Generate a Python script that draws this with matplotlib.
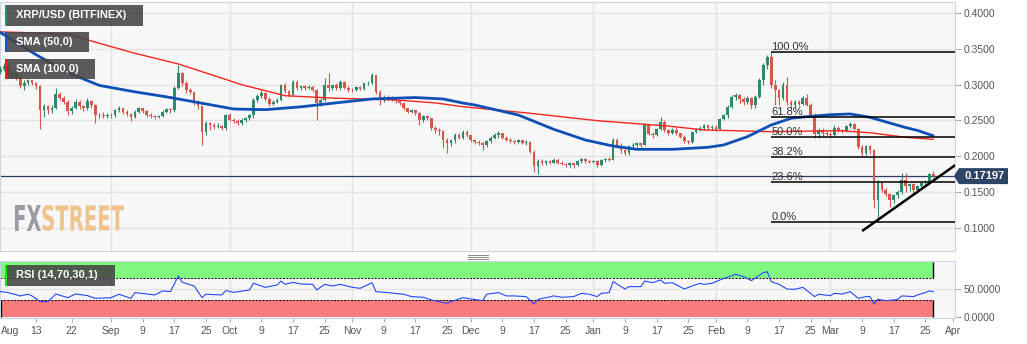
"""XRP/USD daily candles with SMA 50/100, Fibonacci retracement, trendline and RSI."""
import numpy as np
import pandas as pd
import matplotlib
matplotlib.use('Agg')
import matplotlib.pyplot as plt
import matplotlib.dates as mdates
from matplotlib.patches import Rectangle, Polygon, PathPatch
from matplotlib.lines import Line2D
from matplotlib.textpath import TextPath
from matplotlib.font_manager import FontProperties
from matplotlib.transforms import Affine2D, blended_transform_factory

plt.rcParams.update({
    'font.family': ['Liberation Sans', 'DejaVu Sans'],
    'font.size': 8,
})

# ============================================================
# Data (daily candles, Aug 4 2019 -> Mar 27 2020)
# ============================================================
start = '2019-08-04'
first_open = 0.318

close = [
    # Aug
    .322, .326, .313, .316, .310, .298, .303, .306, .302, .298, .265, .270, .264, .268,
    .287, .281, .276, .263, .268, .276, .270, .267, .277, .271, .257, .258, .256, .258,
    # Sep
    .257, .264, .267, .262, .259, .255, .262, .267, .263, .258, .256, .255, .256, .262, .266,
    .264, .296, .316, .302, .292, .290, .276, .270, .234, .246, .243, .241, .242, .239, .257,
    # Oct
    .251, .249, .246, .250, .253, .257, .279, .284, .288, .280, .273, .276, .279, .299, .291, .286,
    .304, .295, .298, .296, .297, .292, .274, .279, .299, .295, .299, .295, .304, .296, .293,
    # Nov
    .292, .297, .294, .302, .303, .313, .290, .278, .283, .280, .282, .277, .274, .267, .262,
    .264, .260, .250, .256, .253, .240, .237, .235, .223, .218, .222, .230, .226, .234, .229,
    # Dec
    .222, .220, .218, .215, .221, .226, .229, .232, .226, .223, .221, .220, .222, .219, .220, .206,
    .186, .193, .190, .193, .191, .195, .191, .189, .187, .190, .187, .193, .196, .193, .192,
    # Jan
    .193, .188, .194, .196, .195, .223, .214, .208, .205, .214, .216, .218, .216, .244, .231, .230,
    .238, .248, .236, .233, .237, .232, .227, .221, .220, .234, .238, .240, .243, .239, .241,
    # Feb
    .238, .252, .257, .269, .283, .285, .280, .276, .281, .271, .283, .306, .327, .339, .300,
    .292, .281, .300, .276, .272, .276, .273, .282, .272, .258, .231, .236, .232, .231,
    # Mar
    .230, .240, .236, .235, .242, .245, .238, .213, .204, .2135, .209, .139, .162, .153,
    .147, .138, .145, .150, .166, .158, .161, .152, .158, .162, .163, .175, .17197,
]
high = [
    .326, .330, .328, .320, .318, .312, .306, .308, .307, .304, .300, .273, .272, .271,
    .295, .290, .284, .278, .270, .280, .278, .272, .281, .279, .273, .261, .262, .261,
    .261, .266, .270, .268, .264, .261, .264, .269, .268, .265, .260, .258, .258, .264, .268,
    .267, .298, .328, .318, .305, .296, .291, .278, .272, .249, .248, .246, .246, .244, .259,
    .260, .254, .252, .253, .255, .259, .281, .287, .292, .290, .283, .279, .282, .301, .302, .293,
    .307, .306, .300, .300, .300, .299, .294, .281, .310, .316, .300, .303, .306, .305, .298,
    .296, .298, .298, .303, .305, .317, .314, .292, .285, .285, .284, .283, .279, .275, .268,
    .266, .265, .262, .258, .257, .254, .242, .239, .236, .225, .224, .233, .232, .237, .236,
    .230, .224, .222, .220, .223, .228, .232, .235, .233, .228, .225, .223, .224, .223, .222, .221,
    .208, .196, .196, .195, .195, .197, .198, .193, .191, .192, .191, .194, .198, .197, .195,
    .194, .194, .196, .197, .199, .225, .225, .218, .210, .216, .219, .220, .219, .246, .245, .234,
    .240, .255, .250, .238, .239, .239, .233, .229, .223, .235, .240, .242, .245, .244, .244,
    .243, .254, .259, .271, .286, .288, .287, .283, .284, .283, .285, .309, .330, .341, .3462,
    .306, .294, .304, .311, .279, .279, .278, .284, .287, .274, .260, .240, .239, .235,
    .234, .243, .242, .238, .244, .248, .247, .239, .215, .216, .215, .210, .166, .164,
    .156, .149, .147, .152, .176, .176, .162, .162, .160, .164, .166, .176, .179,
]
low = [
    .315, .319, .310, .309, .306, .295, .293, .299, .299, .294, .238, .255, .259, .261,
    .266, .278, .273, .258, .259, .266, .266, .263, .265, .268, .246, .253, .254, .254,
    .254, .255, .262, .259, .256, .249, .253, .260, .260, .255, .253, .252, .253, .255, .260,
    .261, .262, .294, .298, .289, .287, .272, .266, .215, .230, .236, .238, .239, .236, .236,
    .249, .246, .243, .244, .248, .251, .254, .276, .281, .277, .270, .271, .274, .277, .289, .283,
    .285, .293, .293, .293, .294, .290, .250, .270, .277, .291, .292, .293, .293, .294, .290,
    .290, .291, .292, .292, .299, .301, .287, .271, .276, .278, .277, .275, .272, .265, .260,
    .260, .257, .243, .248, .251, .236, .232, .230, .212, .204, .214, .218, .224, .224, .227,
    .220, .217, .215, .208, .213, .219, .224, .226, .224, .221, .219, .217, .218, .217, .216, .204,
    .178, .175, .188, .188, .189, .190, .189, .187, .185, .185, .184, .186, .191, .191, .190,
    .190, .185, .186, .192, .193, .194, .212, .204, .202, .202, .211, .213, .213, .215, .229, .226,
    .228, .236, .234, .230, .231, .230, .225, .218, .217, .219, .232, .235, .237, .236, .236,
    .235, .236, .250, .254, .267, .279, .275, .272, .273, .266, .268, .281, .300, .322, .296,
    .272, .272, .279, .271, .266, .268, .270, .271, .270, .256, .225, .226, .227, .228,
    .226, .228, .234, .233, .234, .240, .236, .210, .200, .201, .203, .127, .1082, .150,
    .144, .129, .135, .141, .147, .150, .151, .147, .149, .155, .159, .161, .169,
]

# moving averages (days counted from the first candle)
sma50_day = [0, 9, 17, 25, 34, 42, 50, 59, 67, 76, 84, 94, 105, 112, 117, 120, 131, 140,
             148, 155, 161, 170, 179, 183, 189, 195, 200, 204, 210, 215, 220, 229, 232, 236]
sma50_val = [0.373, 0.342, 0.317, 0.299, 0.290, 0.283, 0.275, 0.266, 0.265, 0.269, 0.274,
             0.280, 0.282, 0.280, 0.2743, 0.2716, 0.2576, 0.2375, 0.2225, 0.2141, 0.2095,
             0.2095, 0.2123, 0.2156, 0.2272, 0.2436, 0.2529, 0.2552, 0.2580, 0.2590, 0.2543,
             0.2400, 0.2360, 0.2285]
sma100_day = [0, 17, 25, 34, 45, 55, 61, 72, 85, 95, 100, 110, 117, 134, 151, 169, 178,
              195, 212, 220, 229, 236]
sma100_val = [0.374, 0.371, 0.358, 0.344, 0.329, 0.311, 0.300, 0.2846, 0.281, 0.2795,
              0.2786, 0.2745, 0.2692, 0.260, 0.2496, 0.242, 0.2366, 0.2342, 0.2356, 0.2328,
              0.2263, 0.2235]

# RSI(14)
rsi_day = [0, 2, 5, 7, 8, 10, 12, 14, 17, 19,
           22, 24, 28, 30, 33, 34, 37, 39, 41, 43,
           45, 46, 49, 51, 52, 56, 57, 59, 63, 64,
           67, 70, 71, 72, 74, 76, 79, 80, 82, 84,
           86, 89, 91, 94, 95, 98, 102, 104, 107, 109,
           113, 114, 117, 119, 122, 123, 126, 128, 130, 133,
           135, 136, 138, 140, 142, 145, 147, 149, 151, 152,
           154, 155, 158, 159, 162, 163, 165, 167, 168, 170,
           173, 175, 177, 178, 180, 182, 186, 188, 190, 193,
           194, 195, 197, 199, 201, 203, 206, 207, 210, 211,
           213, 215, 217, 219, 220, 221, 222, 224, 226, 227,
           228, 231, 232, 234, 235, 236]
rsi_val = [45.8, 44, 38, 41, 38, 27.6, 27.6, 41.5, 34.8, 41.5,
           38.5, 33.6, 34.8, 41, 33.6, 44, 41.5, 39.7, 47, 45.8,
           74.2, 62.7, 56, 34.8, 41, 39.7, 47.6, 44.5, 48.8, 61,
           53.6, 57.9, 65, 59, 62.7, 59.7, 59, 48.8, 59, 56,
           59, 53.6, 51.8, 62, 45.8, 44, 41, 36.7, 35.5, 30.6,
           24.5, 27.6, 34.8, 32.4, 29.4, 41, 44, 38, 38, 36.7,
           23.3, 31.8, 34.8, 38, 35.5, 36.7, 42.7, 41, 36.7, 42.7,
           44, 64, 50.6, 54.8, 54.8, 65.2, 62, 67, 61, 62,
           50.6, 56, 61, 59, 61, 67, 77.3, 73, 65.8, 80.3,
           82, 64, 59, 50.6, 50, 53.6, 36.7, 41, 38.5, 42.7,
           41.5, 45.8, 33.6, 36.7, 36.7, 23.3, 31.8, 29.4, 30.6, 31.8,
           38, 36.7, 39.7, 44, 47, 45.8]

# rising support line (days from first candle, price)
trend_day = [218.0, 241.6]
trend_val = [0.0951, 0.1875]

fib_ratios = [0.0, 0.236, 0.382, 0.5, 0.618, 1.0]

# ============================================================
# Prep
# ============================================================
close = np.array(close)
high = np.array(high)
low = np.array(low)
assert len(close) == len(high) == len(low)
assert len(rsi_day) == len(rsi_val)
dates = pd.date_range(start, periods=len(close), freq='D')
opens = np.r_[first_open, close[:-1]]
x = mdates.date2num(dates)
x0 = x[0]
xl, xr = x0 - 0.12, x0 + 241.5

UP, DOWN = '#2f8a6c', '#d8564a'
GRID = '#e3e3e3'
SPINE = '#cdd3e6'
TXT = '#555555'

W, H = 1027, 344


def fx(px):
    return px / W


def fy(py):
    return 1 - py / H


fig = plt.figure(figsize=(W / 100, H / 100), dpi=100)
fig.patch.set_facecolor('white')
ax = fig.add_axes([0, fy(251), fx(955), (251 - 2) / H])
rax = fig.add_axes([0, fy(318), fx(955), (318 - 261) / H])

months = mdates.date2num(pd.date_range('2019-09-01', '2020-03-01', freq='MS'))
for a in (ax, rax):
    a.set_facecolor('#f7f7f7')
    a.set_xlim(xl, xr)
    for s in a.spines.values():
        s.set_color(SPINE)
        s.set_linewidth(0.8)
    a.yaxis.tick_right()
    a.tick_params(axis='y', length=4, width=0.6, color='#999999', labelcolor=TXT,
                  labelsize=7.5, pad=2)
    for m in months:
        a.axvline(m, color=GRID, lw=1, zorder=0.5)

# ============================================================
# Price panel
# ============================================================
ax.set_ylim(0.0671, 0.4158)
yt = np.arange(0.10, 0.401, 0.05)
ax.set_yticks(yt)
ax.set_yticklabels([f'{v:.4f}' for v in yt])
for v in yt:
    ax.axhline(v, color=GRID, lw=1, zorder=0.5)
ax.tick_params(axis='x', bottom=False, labelbottom=False)

# candles
col = np.where(close >= opens, UP, DOWN)
ax.vlines(x, low, high, colors=col, lw=0.8, zorder=3)
body = np.maximum(np.abs(close - opens), 0.0007)
ax.bar(x, body, bottom=np.minimum(opens, close), width=0.68, color=col, lw=0, zorder=3)

# moving averages
ax.plot(x0 + np.array(sma100_day), sma100_val, color='#f5261f', lw=1.0, zorder=4)
ax.plot(x0 + np.array(sma50_day), sma50_val, color='#0e4fb6', lw=2.0, zorder=4,
        solid_capstyle='round', solid_joinstyle='round')

# last price line
last = close[-1]
ax.axhline(last, color='#2b3d5e', lw=0.9, zorder=2)

# Fibonacci retracement from the swing high to the swing low
hi_i = high.argmax()
hi, lo = high.max(), low.min()
for r in fib_ratios:
    lvl = lo + r * (hi - lo)
    ax.hlines(lvl, x[hi_i], xr, color='black', lw=1.1, zorder=5)
    ax.text(x[hi_i], lvl, f'{r * 100:.1f}%', fontsize=8, color='#333333',
            ha='left', va='bottom', zorder=6)

# trendline
ax.plot(x0 + np.array(trend_day), trend_val, color='black', lw=1.8, zorder=6,
        solid_capstyle='butt')

# last price tag on the axis
bt = blended_transform_factory(fig.transFigure, ax.transData)
ylo, yhi = ax.get_ylim()
dh = 8 * (yhi - ylo) / 249
tag_pts = [(fx(954), last), (fx(959), last + dh), (fx(1008), last + dh),
           (fx(1008), last - dh), (fx(959), last - dh)]
fig.add_artist(Polygon(tag_pts, closed=True, transform=bt, fc='#2d4467', ec='none', zorder=10))
fig.text(fx(984.5), last, f'{last:.5f}', transform=bt, color='white', fontsize=8,
         fontweight='bold', ha='center', va='center', zorder=11)

# ============================================================
# RSI panel
# ============================================================
rax.set_ylim(-2.2, 101.5)
rax.set_yticks([0, 50])
rax.set_yticklabels(['0.0000', '50.0000'])
rax.axhline(50, color=GRID, lw=1, zorder=0.5)
xe = x[-1]
rax.fill_between([xl, xe], 70, 100, color='#80f880', lw=0, zorder=1)
rax.fill_between([xl, xe], 0, 30, color='#f87c7c', lw=0, zorder=1)
rax.hlines([70, 30], xl, xe, colors='black', linestyles=(0, (2, 1.5)), lw=0.7, zorder=2)
rax.vlines(xe, 70, 100, colors='black', lw=1.0, zorder=2)
rax.vlines([xl + 0.15, xe], 0, 30, colors='black', lw=1.0, zorder=2)
rax.plot(x0 + np.array(rsi_day), rsi_val, color='#2448ff', lw=0.8, zorder=3)

# date ticks
tick_d = [pd.Timestamp('2019-08-13'), pd.Timestamp('2019-08-22')]
tick_l = ['13', '22']
for m in pd.date_range('2019-09-01', '2020-04-01', freq='MS'):
    tick_d.append(m)
    tick_l.append(m.strftime('%b'))
    if m.month != 4:
        for dd in (9, 17, 25):
            tick_d.append(m + pd.Timedelta(days=dd - 1))
            tick_l.append(str(dd))
rax.set_xticks(mdates.date2num(tick_d))
rax.set_xticklabels(tick_l)
rax.tick_params(axis='x', length=3, width=0.6, color='#999999', labelcolor=TXT,
                labelsize=7.5, pad=2.5)
rax.annotate('Aug', xy=(0, 0), xycoords='axes fraction', xytext=(0.5, -5.5),
             textcoords='offset points', ha='left', va='top', fontsize=7.5, color=TXT)

# ============================================================
# Legend tags, panel handle, watermark
# ============================================================
def tag(x0p, y0p, x1p, y1p, text, stripe):
    fig.add_artist(Rectangle((fx(x0p), fy(y1p)), (x1p - x0p) / W, (y1p - y0p) / H,
                             transform=fig.transFigure, fc='#444444', ec='none',
                             alpha=0.88, zorder=10))
    fig.add_artist(Rectangle((fx(x0p), fy(y1p)), 2 / W, (y1p - y0p) / H,
                             transform=fig.transFigure, fc=stripe, ec='none', zorder=11))
    fig.text(fx(x0p + 11), fy((y0p + y1p) / 2), text, color='white', fontsize=8,
             fontweight='bold', ha='left', va='center', zorder=12)


tag(5, 5, 143, 26, 'XRP/USD (BITFINEX)', '#2e8b6e')
tag(5, 32, 89, 52, 'SMA (50,0)', '#1253c6')
tag(5, 59, 95, 79, 'SMA (100,0)', '#ff1a1a')
tag(5, 265, 115, 286, 'RSI (14,70,30,1)', '#16e016')

for yy in (254.5, 256.5, 258.5):
    fig.add_artist(Line2D([fx(468), fx(488)], [fy(yy), fy(yy)], transform=fig.transFigure,
                          color='#8a8a8a', lw=0.7))

fp = FontProperties(family='DejaVu Sans', weight='bold')


def stamp(s, x0p, x1p, y0p, y1p, color):
    tp = TextPath((0, 0), s, size=10, prop=fp)
    bb = tp.get_extents()
    tr = (Affine2D().translate(-bb.x0, -bb.y0)
          .scale((x1p - x0p) / W / bb.width, (y1p - y0p) / H / bb.height)
          .translate(fx(x0p), fy(y1p))) + fig.transFigure
    fig.add_artist(PathPatch(tp, transform=tr, fc=color, ec='none', zorder=1))


stamp('FX', 15, 41, 205, 231, '#9a9ca4')
stamp('STREET', 42.5, 124, 205, 231, '#f0c38c')

fig.savefig('out.png', dpi=100, facecolor=fig.get_facecolor())
plt.close()
print('Saved out.png')
